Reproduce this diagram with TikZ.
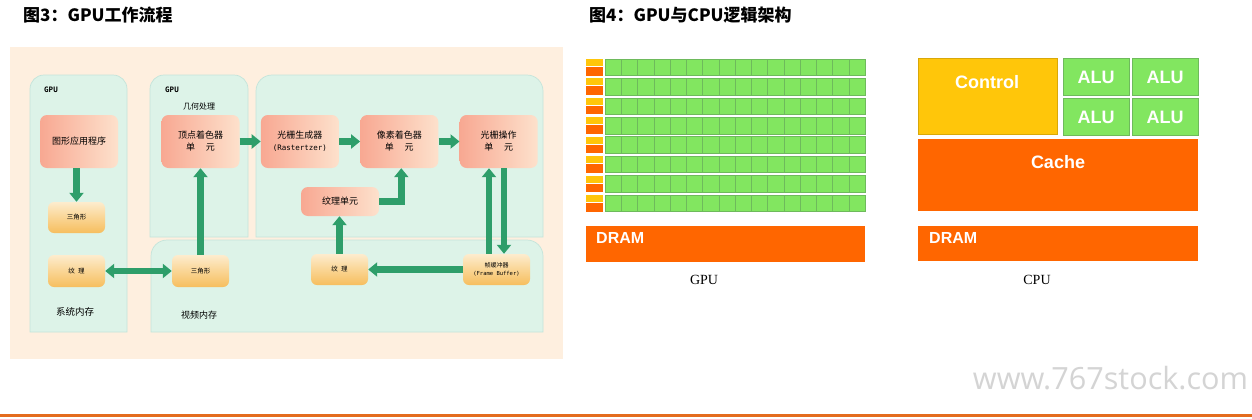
\documentclass[tikz,border=0pt]{standalone}
\usepackage{fontspec}
\usepackage{graphicx}
\setmainfont{Noto Sans CJK SC}
\setmonofont{DejaVu Sans Mono}
\newfontfamily\arialfont{Liberation Sans}
\newfontfamily\timesfont{Liberation Serif}
\newfontfamily\wmfont{Open Sans}
\usetikzlibrary{arrows.meta, positioning}
\definecolor{panelpeach}{RGB}{254, 239, 223}
\definecolor{memmint}{RGB}{221, 243, 232}
\definecolor{mintline}{RGB}{196, 228, 218}
\definecolor{flowgreen}{RGB}{46, 158, 106}
\definecolor{salmonleft}{RGB}{248, 168, 146}
\definecolor{salmonright}{RGB}{253, 225, 204}
\definecolor{glowtop}{RGB}{253, 236, 206}
\definecolor{glowmid}{RGB}{250, 213, 148}
\definecolor{glowbot}{RGB}{246, 190, 94}
\definecolor{alugreen}{RGB}{130, 230, 96}
\definecolor{aluline}{RGB}{110, 186, 92}
\definecolor{ctlyellow}{RGB}{255, 198, 10}
\definecolor{cacheorange}{RGB}{255, 102, 0}
\definecolor{wmgray}{RGB}{212, 212, 212}
\definecolor{ruleorange}{RGB}{228, 108, 30}

\begin{document}
\begin{tikzpicture}[
    x=1pt, y=-1pt,
    stagebox/.style={rectangle, rounded corners=7pt, left color=salmonleft, right color=salmonright,
                     minimum width=78pt, minimum height=53pt, inner sep=0pt,
                     align=center, font=\fontsize{9}{12}\selectfont},
    glowbox/.style={rectangle, rounded corners=6pt, top color=glowtop, bottom color=glowbot,
                    middle color=glowmid, minimum width=57pt, minimum height=31pt, inner sep=0pt,
                    align=center, font=\fontsize{6.5}{8}\selectfont},
    membox/.style={fill=memmint, draw=mintline, line width=0.7pt},
    flow/.style={-{Triangle[length=9pt, width=14pt]}, line width=6.5pt, draw=flowgreen},
    dflow/.style={{Triangle[length=9pt, width=14pt]}-{Triangle[length=9pt, width=14pt]},
                  line width=6.5pt, draw=flowgreen},
    memlabel/.style={inner sep=0pt, font=\fontsize{9.5}{11}\selectfont},
    gputag/.style={inner sep=0pt, font=\ttfamily\bfseries\fontsize{7.5}{9}\selectfont},
    title/.style={anchor=west, inner sep=0pt, font=\bfseries\fontsize{17}{20}\selectfont},
    cell/.style={fill=alugreen, draw=aluline, line width=0.5pt},
    blocktext/.style={inner sep=0pt, text=white, font=\arialfont\bfseries\fontsize{18}{20}\selectfont},
    dramtext/.style={anchor=west, inner sep=0pt, text=white, font=\arialfont\bfseries\fontsize{16}{18}\selectfont},
    archlabel/.style={inner sep=0pt, font=\timesfont\fontsize{14}{16}\selectfont},
]
    \useasboundingbox (0,0) rectangle (1252,418);
    \fill[white] (0,0) rectangle (1252,418);

    % left figure: panel and memory areas
    \fill[panelpeach] (10,47) rectangle (563,359);
    \draw[membox] (30,332) [rounded corners=14pt] -- (30,75) -- (127,75) [sharp corners] -- (127,332) -- cycle;
    \draw[membox] (150,237) [rounded corners=14pt] -- (150,75) -- (248,75) [sharp corners] -- (248,237) -- cycle;
    \draw[membox] (256,237) [rounded corners=16pt] -- (256,75) -- (543,75) [sharp corners] -- (543,237) -- cycle;
    \draw[membox] (151,332) [rounded corners=16pt] -- (151,240) -- (543,240) [sharp corners] -- (543,332) -- cycle;

    \node[title] (titlea) at (23,15) {图3：GPU工作流程};
    \node[title] (titleb) at (589,15) {图4：GPU与CPU逻辑架构};

    \node[gputag] (gpua) at (51,90) {GPU};
    \node[gputag] (gpub) at (172,90) {GPU};
    \node[inner sep=0pt, font=\fontsize{8}{10}\selectfont] (geo) at (199,106) {几何处理};

    \node[stagebox] (app) at (79,141.5) {图形应用程序};
    \node[glowbox] (tria) at (76.5,217.5) {三角形};
    \node[glowbox, minimum height=32pt] (texa) at (76.5,271) {纹\hspace{0.5em}理};
    \node[memlabel] (sysmem) at (75,312) {系统内存};

    \node[stagebox] (vs) at (200.5,141.5) {顶点着色器\\单\hspace{1.2em}元};
    \node[stagebox, right=21pt of vs] (rast) {光栅生成器\\{\ttfamily\fontsize{7.5}{12}\selectfont(Rastertzer)}};
    \node[stagebox, right=21pt of rast] (pix) {像素着色器\\单\hspace{1.2em}元};
    \node[stagebox, right=21pt of pix] (rop) {光栅操作\\单\hspace{1.2em}元};
    \node[stagebox, minimum height=29pt] (texu) at (340,201.5) {纹理单元};

    \node[glowbox, minimum height=32pt] (trib) at (200.5,271) {三角形};
    \node[glowbox] (texb) at (339.5,269.5) {纹\hspace{0.5em}理};
    \node[glowbox, minimum width=67pt, font=\fontsize{6}{8}\selectfont] (fb) at (496.5,269.5)
          {帧缓冲器\\{\ttfamily\fontsize{5.5}{8}\selectfont(Frame Buffer)}};
    \node[memlabel, font=\fontsize{9}{11}\selectfont] (vidmem) at (199,315) {视频内存};

    \draw[flow] (tria.north |- app.south) -- (tria.north);
    \draw[flow] (vs) -- (rast);
    \draw[flow] (rast) -- (pix);
    \draw[flow] (pix) -- (rop);
    \draw[flow] (texu.east) -| ([xshift=2pt]pix.south);
    \draw[flow] (trib.north) -- (trib.north |- vs.south);
    \draw[flow] (texb.north) -- (texb.north |- texu.south);
    \draw[flow] ([xshift=-7.5pt]fb.north) -- ([xshift=-7.5pt]fb.north |- rop.south);
    \draw[flow] ([xshift=7.5pt]fb.north |- rop.south) -- ([xshift=7.5pt]fb.north);
    \draw[flow] (fb) -- (texb);
    \draw[dflow] (texa) -- (trib);

    % right figure: GPU cores
    \foreach \r in {0,...,7} {
        \pgfmathsetmacro\rowtop{59+19.43*\r}
        \fill[ctlyellow] (586,\rowtop) rectangle (603,\rowtop+7);
        \fill[cacheorange] (586,\rowtop+8) rectangle (603,\rowtop+16.5);
        \foreach \c in {0,...,15}
            \draw[cell] (605+16.25*\c,\rowtop) rectangle ++(16.25,16.5);
    }
    \fill[cacheorange] (586,226) rectangle (865,262);
    \node[dramtext] (gdram) at (596,238) {DRAM};
    \node[archlabel] (gpulabel) at (704,280) {GPU};

    % right figure: CPU
    \draw[fill=ctlyellow, draw=ctlyellow!85!black, line width=0.5pt] (918,58) rectangle (1057,134);
    \node[blocktext] (ctl) at (987,82) {Control};
    \foreach \x/\y [count=\i] in {1063/58, 1132/58, 1063/98, 1132/98} {
        \draw[cell] (\x,\y) rectangle ++(66,37.5);
        \node[blocktext] (alu\i) at (\x+33,\y+19) {ALU};
    }
    \fill[cacheorange] (918,139) rectangle (1198,211);
    \node[blocktext] (cache) at (1058,162) {Cache};
    \fill[cacheorange] (918,226) rectangle (1198,261);
    \node[dramtext] (cdram) at (929,238) {DRAM};
    \node[archlabel] (cpulabel) at (1037,280) {CPU};

    \node[inner sep=0pt, text=wmgray, font=\wmfont] (mark) at (1110.5,378.5)
          {\resizebox{275pt}{!}{www.767stock.com}};
    \fill[ruleorange] (0,414) rectangle (1252,417);
\end{tikzpicture}
\end{document}
